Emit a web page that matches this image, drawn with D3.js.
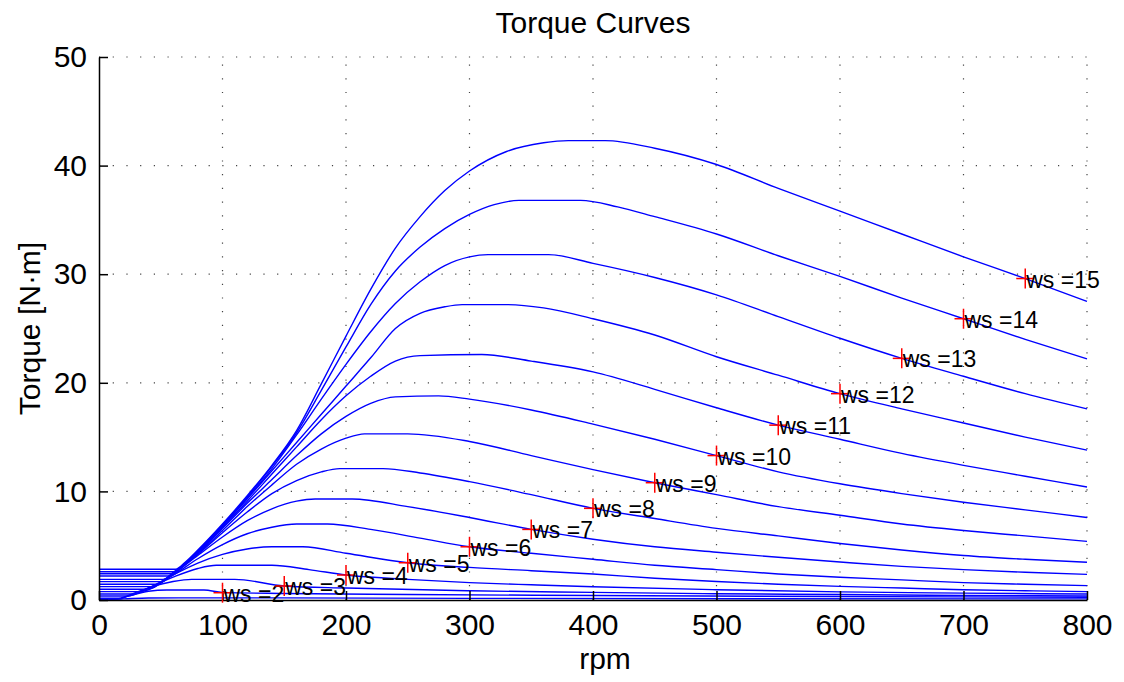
<!DOCTYPE html>
<html>
<head>
<meta charset="utf-8">
<script src="https://cdn.jsdelivr.net/npm/d3@7"></script>
<style>
body { margin: 0; background: #fff; }
text { font-family: "Liberation Sans", Arial, sans-serif; fill: #000; }
</style>
</head>
<body>
<div id="chart"></div>
<script>
// axis ticks
const rpmTicks = [0, 100, 200, 300, 400, 500, 600, 700, 800];
const torqueTicks = [0, 10, 20, 30, 40, 50];

// torque curves, [rpm, torque]
const ws1 = [[0,0.03],[20,0.1],[40,0.18],[80,0.2],[300,0.15],[800,0.1]];
const ws2 = [[0,0.08],[15,0.08],[25,0.4],[40,0.8],[55,0.92],[85,0.92],[100,0.7],[150,0.6],[250,0.5],[400,0.42],[600,0.32],[800,0.25]];
const ws3 = [[0,0.16],[16,0.16],[30,0.7],[45,1.3],[60,1.7],[75,1.9],[110,1.9],[150,1.29],[200,1.1],[300,0.85],[400,0.7],[500,0.58],[600,0.5],[700,0.42],[800,0.37]];
const ws4 = [[0,0.37],[23,0.37],[40,1.1],[60,2.1],[80,2.9],[95,3.2],[140,3.2],[170,2.8],[200,2.3],[250,1.9],[300,1.6],[350,1.4],[400,1.22],[500,0.95],[600,0.75],[700,0.63],[800,0.55]];
const ws5 = [[0,0.55],[27,0.55],[40,1.1],[60,2.3],[80,3.4],[100,4.2],[120,4.7],[140,4.9],[165,4.9],[200,4.3],[250,3.43],[300,3.0],[350,2.7],[400,2.4],[450,2.0],[500,1.7],[550,1.45],[600,1.25],[650,1.1],[700,0.95],[750,0.85],[800,0.77]];
const ws6 = [[0,0.77],[33,0.77],[60,2.3],[80,3.8],[100,5.1],[120,6.1],[140,6.7],[160,7.0],[185,7.0],[220,6.5],[260,5.7],[300,4.9],[350,4.3],[400,3.75],[450,3.2],[500,2.8],[550,2.4],[600,2.1],[650,1.85],[700,1.6],[750,1.45],[800,1.32]];
const ws7 = [[0,0.99],[38,0.99],[60,2.4],[80,4.1],[100,5.8],[120,7.3],[140,8.4],[160,9.1],[175,9.3],[205,9.3],[250,8.6],[300,7.6],[350,6.5],[400,5.6],[450,4.9],[500,4.4],[550,3.93],[600,3.5],[650,3.1],[700,2.8],[750,2.55],[800,2.36]];
const ws8 = [[0,1.23],[42,1.23],[60,2.4],[80,4.2],[100,6.2],[120,8.1],[140,9.8],[160,11.0],[180,11.8],[195,12.1],[230,12.1],[260,11.7],[300,10.9],[350,9.7],[400,8.44],[450,7.5],[500,6.6],[550,5.9],[600,5.2],[650,4.6],[700,4.1],[750,3.75],[800,3.47]];
const ws9 = [[0,1.45],[46,1.45],[60,2.5],[80,4.3],[100,6.4],[120,8.6],[140,10.6],[160,12.5],[180,13.9],[200,14.9],[215,15.3],[250,15.3],[300,14.6],[350,13.3],[400,12.0],[450,10.8],[500,9.7],[550,8.6],[600,7.8],[650,7.0],[700,6.4],[750,5.9],[800,5.4]];
const ws10 = [[0,1.69],[50,1.69],[60,2.5],[80,4.4],[100,6.6],[120,8.9],[140,11.1],[160,13.3],[180,15.3],[200,16.9],[220,18.1],[240,18.7],[275,18.8],[300,18.5],[350,17.5],[400,16.2],[450,14.8],[500,13.3],[550,11.8],[600,10.7],[650,9.8],[700,9.0],[750,8.3],[800,7.6]];
const ws11 = [[0,1.9],[52,1.9],[60,2.5],[80,4.4],[100,6.7],[120,9.1],[140,11.6],[160,14.1],[180,16.6],[200,18.8],[220,20.6],[240,22.0],[260,22.5],[310,22.6],[350,22.0],[400,21.0],[450,19.4],[500,17.7],[550,16.1],[600,14.8],[650,13.5],[700,12.4],[750,11.4],[800,10.4]];
const ws12 = [[0,2.21],[56,2.21],[70,3.3],[80,4.4],[100,6.8],[120,9.3],[140,11.9],[160,14.5],[180,17.1],[200,19.7],[220,22.3],[240,25.0],[260,26.4],[280,27.0],[294,27.2],[330,27.2],[360,26.9],[400,25.9],[450,24.4],[500,22.4],[550,20.7],[600,19.0],[650,17.6],[700,16.3],[750,15.0],[800,13.8]];
const ws13 = [[0,2.42],[58,2.42],[70,3.4],[80,4.5],[100,6.9],[120,9.4],[140,12.1],[160,15.2],[180,18.5],[200,21.7],[220,24.7],[240,27.3],[260,29.3],[280,30.8],[300,31.6],[315,31.8],[364,31.8],[400,31.0],[450,29.7],[500,28.1],[550,26.1],[600,24.1],[650,22.25],[700,20.6],[750,19.0],[800,17.6]];
const ws14 = [[0,2.6],[60,2.6],[70,3.4],[80,4.5],[100,6.9],[120,9.5],[140,12.3],[160,15.4],[180,19.3],[200,23.3],[220,27.2],[240,30.3],[260,32.5],[280,34.2],[300,35.5],[320,36.4],[340,36.8],[390,36.8],[420,36.2],[450,35.3],[500,33.7],[550,31.7],[600,29.8],[650,27.8],[700,25.9],[750,24.0],[800,22.2]];
const ws15 = [[0,2.83],[62,2.83],[70,3.5],[80,4.6],[100,7.0],[120,9.6],[140,12.4],[160,15.6],[180,19.9],[200,24.3],[220,28.6],[240,32.4],[260,35.3],[280,37.7],[300,39.5],[330,41.3],[360,42.1],[380,42.3],[410,42.3],[450,41.6],[500,40.1],[550,37.9],[600,35.8],[650,33.7],[700,31.6],[750,29.6],[800,27.5]];
const curves = [ws1, ws2, ws3, ws4, ws5, ws6, ws7, ws8, ws9, ws10, ws11, ws12, ws13, ws14, ws15];

// red markers with their labels
const markerWs = [2, 3, 4, 5, 6, 7, 8, 9, 10, 11, 12, 13, 14, 15];
const markerRpm = [100, 150, 200, 250, 300, 350, 400, 450, 500, 550, 600, 650, 700, 750];
const markerTorque = [0.67, 1.29, 2.3, 3.43, 4.9, 6.5, 8.44, 10.8, 13.3, 16.1, 19.0, 22.25, 25.9, 29.6];

const width = 1124, height = 682;
const margin = {top: 57, right: 37, bottom: 82, left: 99};

const svg = d3.select('#chart').append('svg')
  .attr('width', width).attr('height', height);

const x = d3.scaleLinear().domain([0, 800]).range([margin.left, width - margin.right]);
const y = d3.scaleLinear().domain([0, 50]).range([height - margin.bottom, margin.top]);

// dotted grid
const grid = svg.append('g').attr('stroke', '#444').attr('stroke-width', 1.2)
  .attr('stroke-dasharray', '1.2,12.5');
grid.selectAll('.gx').data(rpmTicks.slice(1)).enter().append('line')
  .attr('x1', d => x(d)).attr('x2', d => x(d))
  .attr('y1', y(0)).attr('y2', y(50));
grid.selectAll('.gy').data(torqueTicks.slice(1)).enter().append('line')
  .attr('x1', x(0)).attr('x2', x(800))
  .attr('y1', d => y(d)).attr('y2', d => y(d));

// curves
const line = d3.line().x(d => x(d[0])).y(d => y(d[1])).curve(d3.curveMonotoneX);
svg.append('g').selectAll('path').data(curves).enter().append('path')
  .attr('d', line).attr('fill', 'none').attr('stroke', '#0000ff').attr('stroke-width', 1.4);

// axes, ticks pointing inward
const xAxis = d3.axisBottom(x).tickValues(rpmTicks).tickSizeInner(-9).tickSizeOuter(0).tickPadding(14);
const yAxis = d3.axisLeft(y).tickValues(torqueTicks).tickSizeInner(-9).tickSizeOuter(0).tickPadding(12);
const gx = svg.append('g').attr('transform', `translate(0,${y(0)})`).call(xAxis);
const gy = svg.append('g').attr('transform', `translate(${x(0)},0)`).call(yAxis);
[gx, gy].forEach(g => {
  g.select('.domain').attr('stroke', '#000').attr('stroke-width', 1.5);
  g.selectAll('.tick line').attr('stroke', '#000').attr('stroke-width', 1.5);
  g.selectAll('.tick text').attr('font-size', 30).attr('font-family', '"Liberation Sans", Arial, sans-serif').attr('fill', '#000');
});
gx.selectAll('.tick text').attr('dy', '0.71em');

// markers
const mk = svg.append('g');
markerWs.forEach((w, i) => {
  const px = x(markerRpm[i]), py = y(markerTorque[i]);
  mk.append('line').attr('x1', px - 9).attr('x2', px + 9).attr('y1', py).attr('y2', py)
    .attr('stroke', '#ff0000').attr('stroke-width', 1.5);
  mk.append('line').attr('x1', px).attr('x2', px).attr('y1', py - 10).attr('y2', py + 10)
    .attr('stroke', '#ff0000').attr('stroke-width', 1.5);
  mk.append('text').attr('x', px + 1).attr('y', py + 9).attr('font-size', 23)
    .text('ws =' + w);
});

// titles
svg.append('text').attr('x', (x(0) + x(800)) / 2).attr('y', 33).attr('text-anchor', 'middle')
  .attr('font-size', 30).text('Torque Curves');
svg.append('text').attr('x', (x(0) + x(800)) / 2 + 12).attr('y', 669).attr('text-anchor', 'middle')
  .attr('font-size', 30).text('rpm');
svg.append('text').attr('transform', `translate(40,${(y(0) + y(50)) / 2}) rotate(-90)`)
  .attr('text-anchor', 'middle').attr('font-size', 30).text('Torque [N·m]');
</script>
</body>
</html>
